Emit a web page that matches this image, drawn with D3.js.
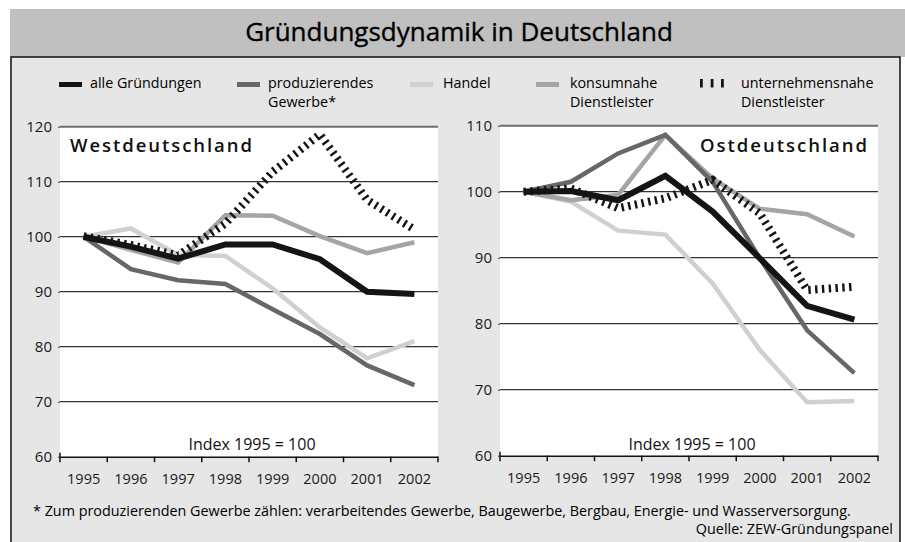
<!DOCTYPE html>
<html>
<head>
<meta charset="utf-8">
<script src="https://cdn.jsdelivr.net/npm/d3@7"></script>
<style>
  body { margin: 0; background: #fff; }
  svg { display: block; font-family: "Open Sans", "Noto Sans", sans-serif; }
</style>
</head>
<body>
<svg id="chart" width="905" height="542"></svg>
<script>
// data (index 1995 = 100)
const years = ["1995", "1996", "1997", "1998", "1999", "2000", "2001", "2002"];
const seriesNames = ["alle Gründungen", "produzierendes Gewerbe*", "Handel", "konsumnahe Dienstleister", "unternehmensnahe Dienstleister"];

const westAlle = [100, 98.2, 96.0, 98.6, 98.6, 95.9, 90.0, 89.6];
const westProd = [100, 94.1, 92.1, 91.4, 86.8, 82.3, 76.6, 73.0];
const westHandel = [100, 101.5, 96.7, 96.5, 90.6, 83.5, 77.9, 81.0];
const westKonsum = [100, 97.6, 95.3, 103.9, 103.8, 100.1, 97.0, 99.0];
const westUnter = [100.1, 98.5, 96.6, 102.4, 111.8, 118.6, 106.7, 101.3];

const eastAlle = [100, 100.1, 98.7, 102.4, 97.0, 89.9, 82.7, 80.6];
const eastProd = [100, 101.5, 105.8, 108.6, 101.5, 89.9, 79.0, 72.5];
const eastHandel = [100, 98.5, 94.1, 93.5, 86.1, 76.0, 68.1, 68.3];
const eastKonsum = [100, 98.7, 99.5, 108.6, 102.0, 97.4, 96.6, 93.2];
const eastUnter = [100, 100.5, 97.5, 99.0, 101.8, 96.7, 85.1, 85.6];

const westTicks = [60, 70, 80, 90, 100, 110, 120];
const eastTicks = [60, 70, 80, 90, 100, 110];

const styles = [
  { color: "#141414", width: 6, dash: null },
  { color: "#676767", width: 4.5, dash: null },
  { color: "#d0d0d0", width: 4.5, dash: null },
  { color: "#a5a5a5", width: 4.5, dash: null },
  { color: "#141414", width: 8, dash: "2.4,4.4" }
];
const drawOrder = [2, 3, 1, 0, 4];

const svg = d3.select("#chart");

// frame
svg.append("rect").attr("x", 10).attr("y", 9).attr("width", 895).attr("height", 48).attr("fill", "#c0c0c0");
svg.append("rect").attr("x", 11).attr("y", 57).attr("width", 889).attr("height", 490)
  .attr("fill", "#e6e6e6").attr("stroke", "#111").attr("stroke-width", 1.5);

function fitWidth(sel, w) {
  const len = sel.node().getComputedTextLength();
  const fs = parseFloat(sel.attr("font-size"));
  sel.attr("font-size", fs * w / len);
}

const title = svg.append("text").attr("x", 459).attr("y", 41).attr("text-anchor", "middle")
  .attr("font-size", 24).attr("fill", "#000").attr("stroke", "#000").attr("stroke-width", 0.35)
  .text("Gründungsdynamik in Deutschland");
fitWidth(title, 428);

// legend
const legendSwatchX = [59, 237, 410, 536, 700];
const legendTextX = [90, 268, 443, 570, 741];
const legendLines = [["alle Gründungen"], ["produzierendes", "Gewerbe*"], ["Handel"], ["konsumnahe", "Dienstleister"], ["unternehmensnahe", "Dienstleister"]];
const legend = svg.append("g").attr("font-size", 14.3).attr("fill", "#000");
seriesNames.forEach((name, i) => {
  const st = styles[i];
  if (st.dash) {
    [0, 10.7, 21].forEach(dx => {
      legend.append("rect").attr("x", legendSwatchX[i] + dx).attr("y", 79).attr("width", 2.8).attr("height", 8.5).attr("fill", st.color);
    });
  } else {
    legend.append("rect").attr("x", legendSwatchX[i]).attr("y", 82).attr("width", 23).attr("height", 5).attr("fill", st.color);
  }
  const t = legend.append("text").attr("x", legendTextX[i]).attr("y", 88);
  legendLines[i].forEach((ln, k) => {
    t.append("tspan").attr("x", legendTextX[i]).attr("dy", k === 0 ? 0 : 18.5).text(ln);
  });
});

function drawPanel(cfg) {
  const g = svg.append("g");
  const x = d3.scaleBand().domain(years).range([cfg.x0, cfg.x1]);
  const y = d3.scaleLinear().domain([cfg.ticks[0], cfg.ticks[cfg.ticks.length - 1]]).range([cfg.yBottom, cfg.yTop]);

  g.append("rect").attr("x", cfg.x0).attr("y", cfg.yTop).attr("width", cfg.x1 - cfg.x0)
    .attr("height", cfg.yBottom - cfg.yTop).attr("fill", "#fff");

  // gridlines
  cfg.ticks.slice(1).forEach((t, i, arr) => {
    const top = i === arr.length - 1;
    g.append("line").attr("x1", cfg.x0).attr("x2", cfg.x1).attr("y1", y(t)).attr("y2", y(t))
      .attr("stroke", top ? "#6e6e6e" : "#333").attr("stroke-width", top ? 2 : 1.3);
  });

  // y axis labels
  const yAxis = g.append("g").attr("transform", `translate(${cfg.x0},0)`)
    .call(d3.axisLeft(y).tickValues(cfg.ticks).tickSize(2).tickPadding(6));
  yAxis.select(".domain").remove();
  yAxis.selectAll("line").attr("stroke", "#333");
  yAxis.selectAll("text").attr("font-size", 15).attr("fill", "#1a1a1a").attr("font-family", "Open Sans, sans-serif");

  // x axis
  const xAxis = g.append("g").attr("transform", `translate(0,${cfg.yBottom})`)
    .call(d3.axisBottom(x).tickSize(0).tickPadding(17));
  xAxis.select(".domain").attr("stroke", "#111").attr("stroke-width", 1.5);
  xAxis.selectAll("text").attr("font-size", 14.5).attr("fill", "#1a1a1a").attr("font-family", "Open Sans, sans-serif");
  const edges = years.map(d => x(d)).concat([cfg.x1]);
  g.selectAll(null).data(edges).enter().append("line")
    .attr("x1", d => d).attr("x2", d => d)
    .attr("y1", (d, i) => i === 0 ? cfg.yBottom - 4 : cfg.yBottom)
    .attr("y2", cfg.yBottom + 5.5)
    .attr("stroke", "#111").attr("stroke-width", 1.5);

  // lines
  const line = d3.line().x((d, i) => x(years[i]) + x.bandwidth() / 2).y(d => y(d));
  drawOrder.forEach(k => {
    const st = styles[k];
    g.append("path").datum(cfg.data[k]).attr("d", line).attr("fill", "none")
      .attr("stroke", st.color).attr("stroke-width", st.width)
      .attr("stroke-dasharray", st.dash).attr("stroke-linejoin", "miter");
  });

  // labels
  g.append("text").attr("x", cfg.labelX).attr("y", 152).attr("text-anchor", cfg.labelAnchor)
    .attr("font-size", 18.5).attr("font-weight", 600).attr("fill", "#111")
    .attr("textLength", cfg.labelW).attr("lengthAdjust", "spacing").text(cfg.label);
  g.append("text").attr("x", cfg.indexX).attr("y", 450).attr("text-anchor", "middle")
    .attr("font-size", 16).attr("fill", "#111").text("Index 1995 = 100");
}

drawPanel({
  x0: 60, x1: 438, yTop: 126.7, yBottom: 456.7, ticks: westTicks,
  data: [westAlle, westProd, westHandel, westKonsum, westUnter],
  label: "Westdeutschland", labelX: 70, labelAnchor: "start", labelW: 182, indexX: 252
});
drawPanel({
  x0: 500, x1: 878, yTop: 125.7, yBottom: 455.7, ticks: eastTicks,
  data: [eastAlle, eastProd, eastHandel, eastKonsum, eastUnter],
  label: "Ostdeutschland", labelX: 700, labelAnchor: "start", labelW: 167, indexX: 692
});

// footer
const foot = svg.append("text").attr("x", 33).attr("y", 516).attr("font-size", 14).attr("fill", "#000")
  .text("* Zum produzierenden Gewerbe zählen: verarbeitendes Gewerbe, Baugewerbe, Bergbau, Energie- und Wasserversorgung.");
fitWidth(foot, 818);
svg.append("text").attr("x", 893).attr("y", 534).attr("text-anchor", "end").attr("font-size", foot.attr("font-size"))
  .attr("fill", "#000").text("Quelle: ZEW-Gründungspanel");
</script>
</body>
</html>
